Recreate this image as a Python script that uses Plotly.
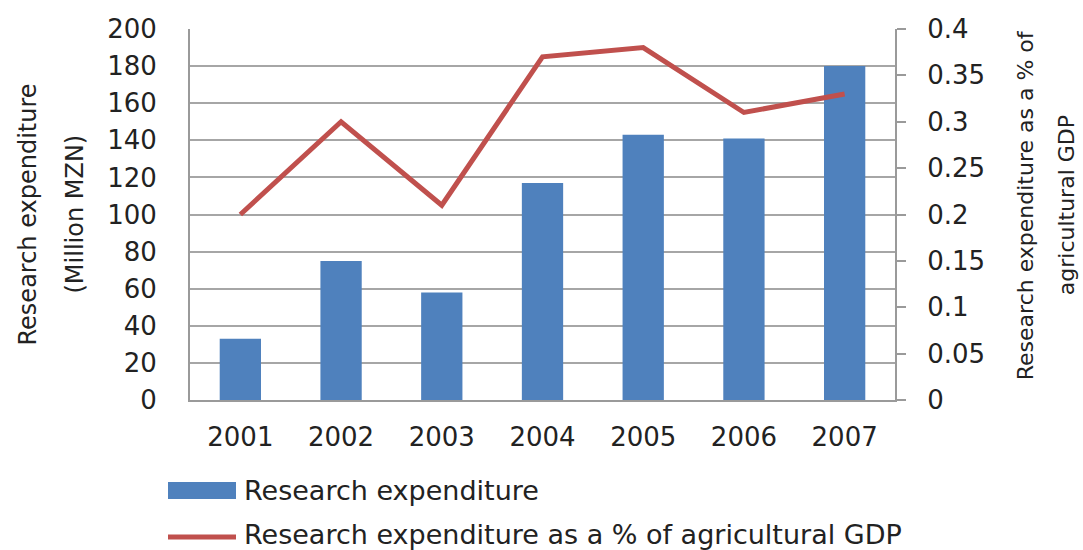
import plotly.graph_objects as go

# Research expenditure, Mozambique agricultural research
years = ["2001", "2002", "2003", "2004", "2005", "2006", "2007"]
expenditure_mzn = [33, 75, 58, 117, 143, 141, 180]          # million MZN
share_of_ag_gdp = [0.20, 0.30, 0.21, 0.37, 0.38, 0.31, 0.33]  # % of agricultural GDP

left_ticks = [0, 20, 40, 60, 80, 100, 120, 140, 160, 180, 200]
right_ticks = [0, 0.05, 0.1, 0.15, 0.2, 0.25, 0.3, 0.35, 0.4]
right_tick_text = ["0", "0.05", "0.1", "0.15", "0.2", "0.25", "0.3", "0.35", "0.4"]

bar_name = "Research expenditure"
line_name = "Research expenditure as a % of agricultural GDP"
left_title = ["Research expenditure", "(Million MZN)"]
right_title = ["Research expenditure as a % of", "agricultural GDP"]

BLUE = "#4F81BD"
RED = "#C0504D"
GRID = "#A6A6A6"
AXIS = "#9A9A9A"
TEXT = "#222222"
FONT = "DejaVu Sans"

fig = go.Figure()
fig.add_trace(go.Bar(
    x=years, y=expenditure_mzn, name=bar_name,
    marker=dict(color=BLUE, line=dict(width=0)),
    showlegend=False,
))
fig.add_trace(go.Scatter(
    x=years, y=share_of_ag_gdp, name=line_name, yaxis="y2",
    mode="lines", line=dict(color=RED, width=5),
    showlegend=False,
))

fig.update_layout(
    width=1083, height=550,
    margin=dict(l=190, r=188, t=29, b=150),
    paper_bgcolor="white", plot_bgcolor="white",
    font=dict(family=FONT, size=26, color=TEXT),
    bargap=0.59,
    xaxis=dict(
        showgrid=False, showline=True, linecolor=AXIS, linewidth=2,
        ticks="", ticklabelstandoff=13, tickfont=dict(size=26),
    ),
    yaxis=dict(
        range=[0, 200], tickvals=left_ticks,
        showgrid=True, gridcolor=GRID, gridwidth=2,
        showline=True, linecolor=AXIS, linewidth=2,
        zeroline=False, ticks="", ticklabelstandoff=26,
    ),
    yaxis2=dict(
        range=[0, 0.4], tickvals=right_ticks, ticktext=right_tick_text,
        overlaying="y", side="right",
        showgrid=False, showline=True, linecolor=AXIS, linewidth=2,
        zeroline=False, ticks="outside", ticklen=9, tickwidth=2, tickcolor=AXIS,
        ticklabelstandoff=16,
    ),
)

# axis titles, two lines each, rotated
for text, xpx in zip(left_title, [27, 74]):
    fig.add_annotation(
        xref="paper", yref="paper", x=(xpx - 190) / 705, y=0.5,
        text=text, textangle=-90, showarrow=False,
        xanchor="center", yanchor="middle", font=dict(size=24),
    )
for text, xpx in zip(right_title, [1025, 1066]):
    fig.add_annotation(
        xref="paper", yref="paper", x=(xpx - 190) / 705, y=0.525,
        text=text, textangle=-90, showarrow=False,
        xanchor="center", yanchor="middle", font=dict(size=22),
    )

# legend below the chart
def px_x(v):
    return (v - 190) / 705

def px_y(v):
    return (400 - v) / 371

fig.add_shape(type="rect", xref="paper", yref="paper",
              x0=px_x(168), x1=px_x(236), y0=px_y(482), y1=px_y(499),
              fillcolor=BLUE, line=dict(width=0))
fig.add_shape(type="line", xref="paper", yref="paper",
              x0=px_x(168), x1=px_x(236), y0=px_y(537), y1=px_y(537),
              line=dict(color=RED, width=5))
fig.add_annotation(xref="paper", yref="paper", x=px_x(242), y=px_y(490),
                   text=bar_name, showarrow=False, xanchor="left",
                   yanchor="middle", font=dict(size=27))
fig.add_annotation(xref="paper", yref="paper", x=px_x(242), y=px_y(534),
                   text=line_name, showarrow=False, xanchor="left",
                   yanchor="middle", font=dict(size=27))

fig.write_html("out.html")
